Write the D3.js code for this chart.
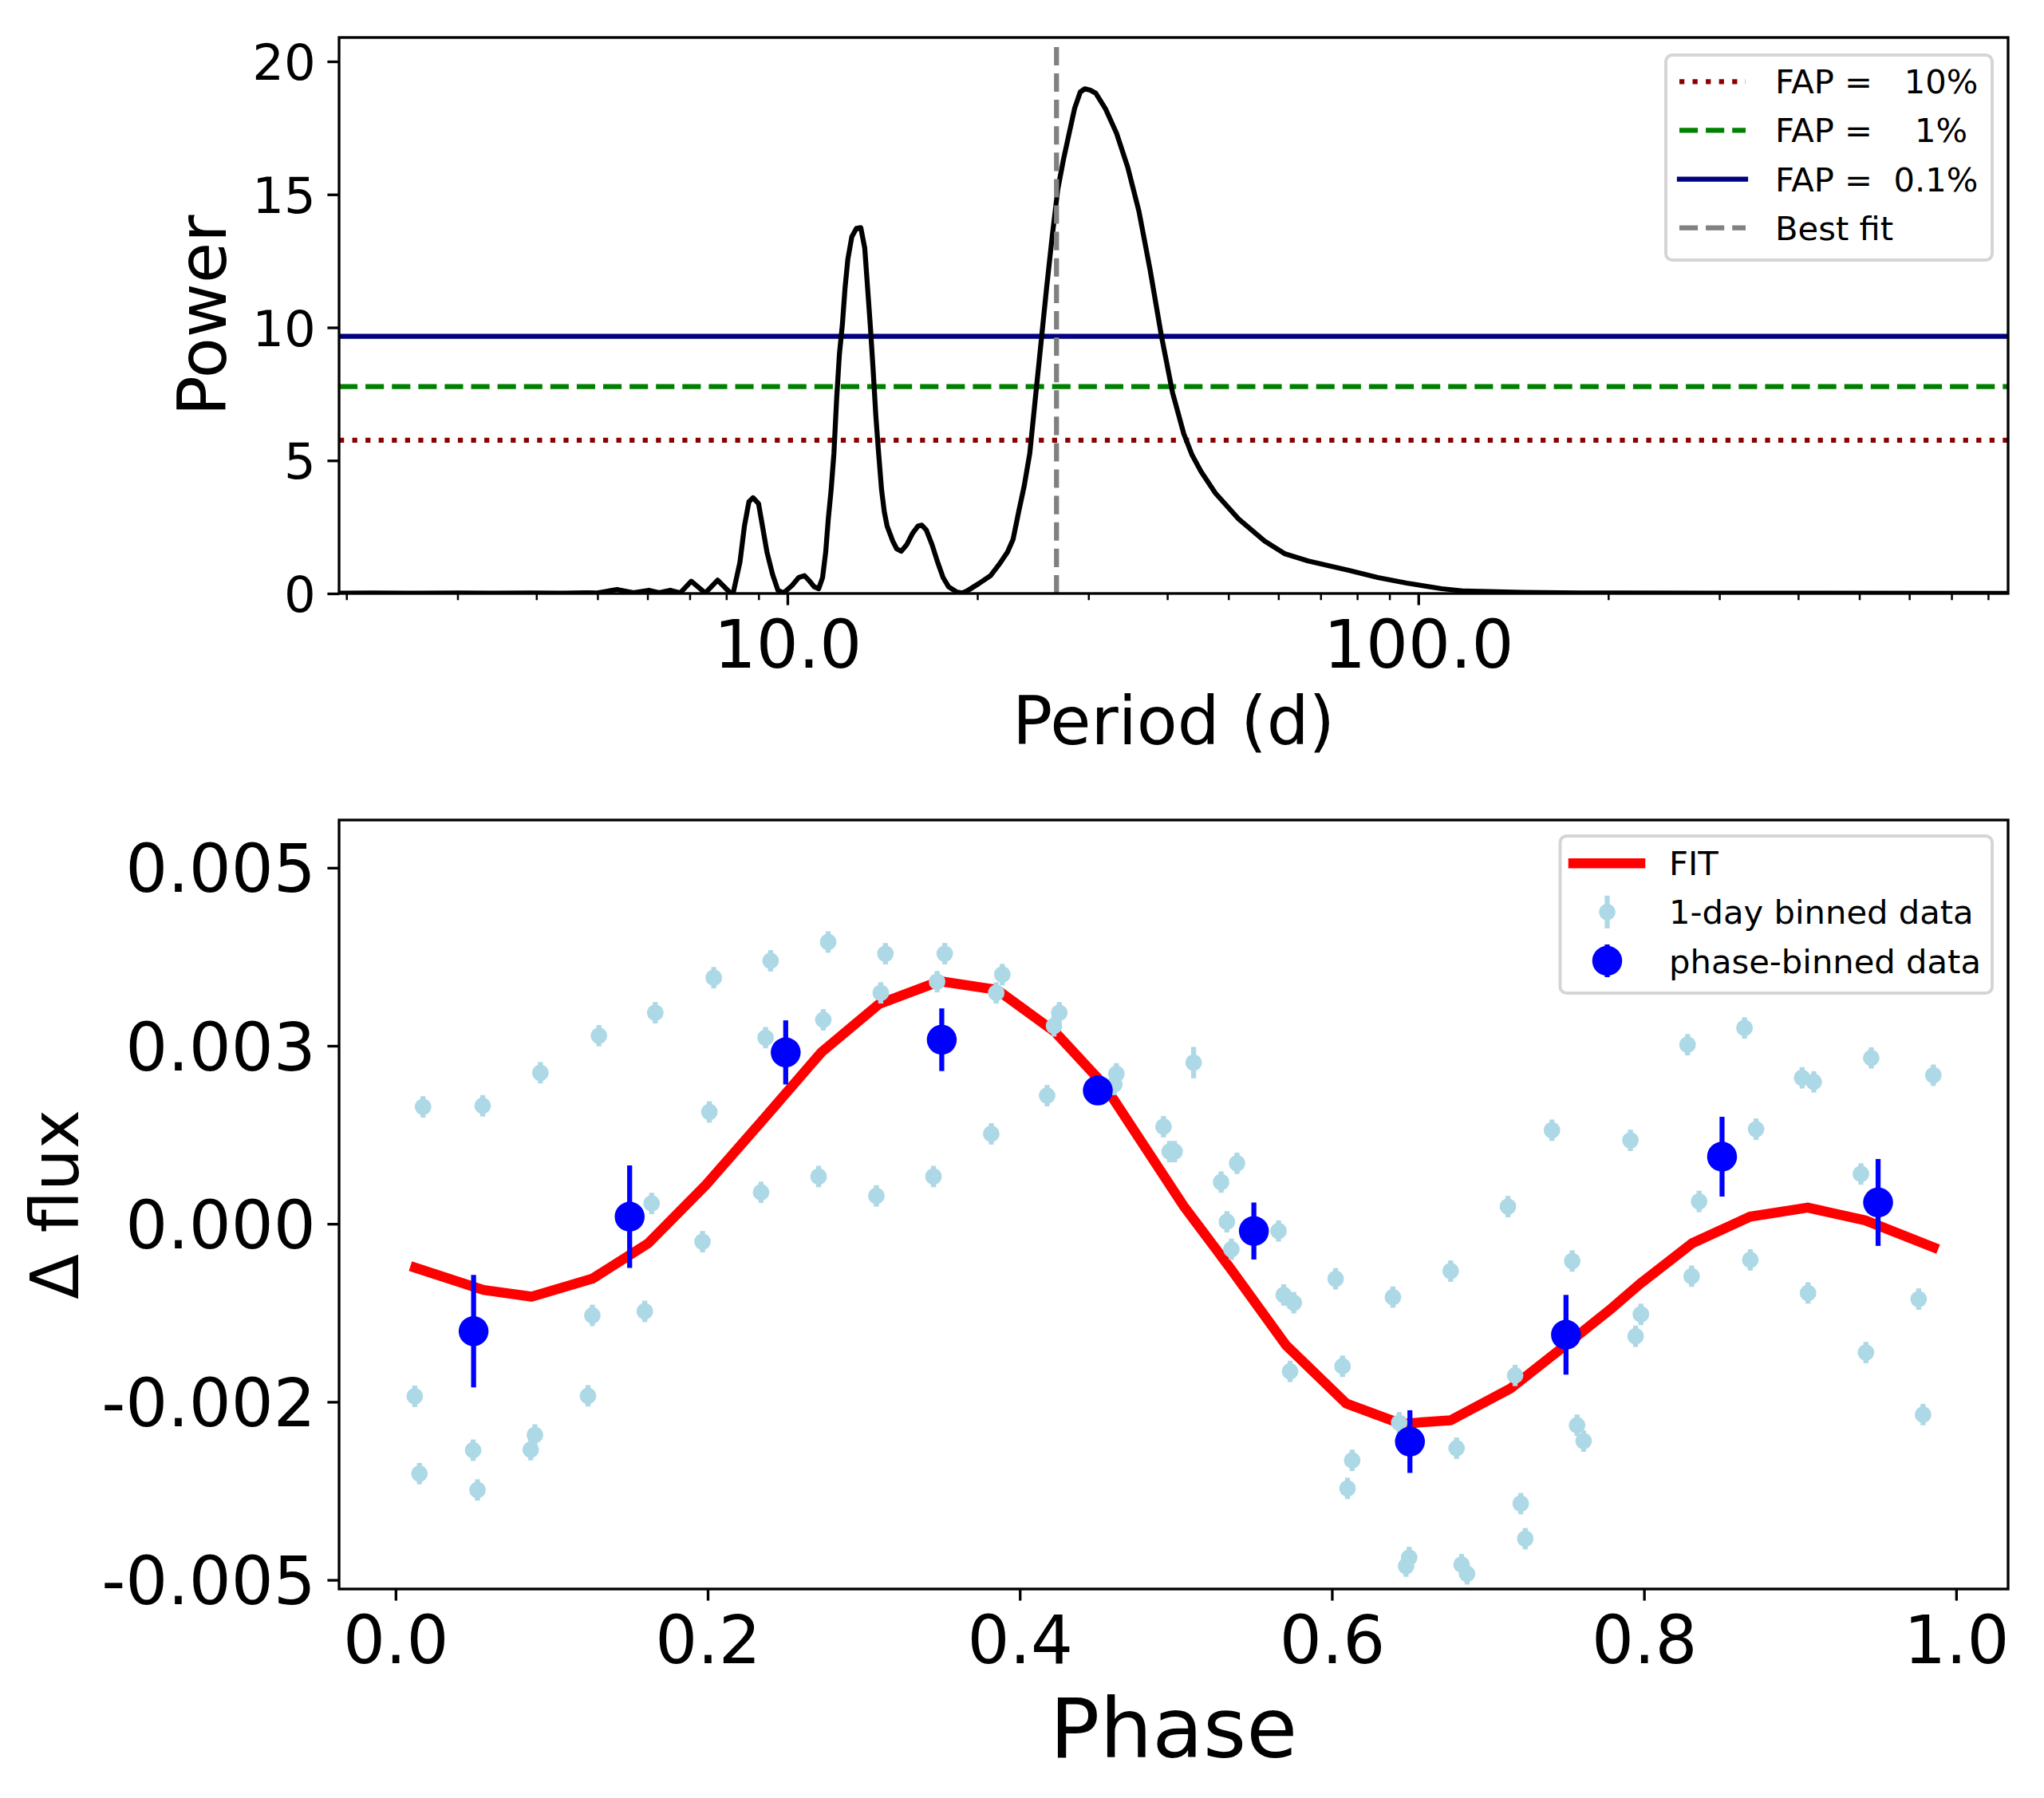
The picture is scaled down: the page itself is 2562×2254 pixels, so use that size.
<!DOCTYPE html>
<html><head><meta charset="utf-8">
<script src="https://cdn.jsdelivr.net/npm/d3@7"></script>
<style>body{margin:0;background:#fff} svg{display:block} text{white-space:pre}</style>
</head><body><svg id="c" width="2562" height="2254"></svg>
<script>
// ---------------- DATA ----------------
// Top panel: periodogram
const periods = [1.947,2.2,2.6,3.0,3.4,3.9,4.4,4.8,5.0,5.37,5.7,6.03,6.26,6.52,6.76,7.04,7.41,7.75,8.12,8.21,8.41,8.55,8.69,8.82,9.00,9.13,9.28,9.47,9.66,9.86,10.17,10.42,10.64,10.81,11.03,11.21,11.37,11.50,11.61,11.73,11.85,11.97,12.09,12.22,12.34,12.47,12.65,12.86,13.07,13.26,13.40,13.53,13.67,13.81,13.95,14.10,14.24,14.39,14.69,14.90,15.15,15.46,15.78,16.10,16.33,16.60,16.95,17.30,17.65,18.01,18.57,18.95,19.34,20.16,20.99,21.65,22.33,22.79,23.26,23.73,24.22,24.72,25.23,25.75,26.28,26.83,27.38,27.94,28.52,29.12,29.6,30.2,30.83,31.91,33.24,34.63,36.07,37.57,39.15,40.78,42.49,43.8,45.24,47.69,51.90,57.09,61.48,66.9,77.6,86.27,95.87,108.9,118.4,146.4,180.9,300,860];
const power = [0.01,0.02,0.01,0.02,0.01,0.02,0.01,0.03,0.02,0.15,0.03,0.12,0.03,0.12,0.02,0.46,0.02,0.50,0.02,0.05,1.18,2.55,3.45,3.60,3.38,2.53,1.56,0.73,0.12,0.02,0.30,0.60,0.67,0.50,0.25,0.18,0.60,1.56,2.81,3.90,5.27,7.35,9.00,10.10,11.48,12.58,13.41,13.72,13.75,12.99,11.48,10.10,8.45,6.66,5.27,3.90,3.08,2.53,1.97,1.68,1.59,1.84,2.25,2.53,2.57,2.39,1.84,1.18,0.60,0.25,0.05,0.02,0.12,0.39,0.67,1.09,1.56,2.04,3.08,4.04,5.27,7.35,9.41,11.48,13.41,15.20,16.30,17.26,18.23,18.85,18.97,18.92,18.80,18.23,17.30,16.02,14.37,12.17,9.69,7.55,6.0,5.2,4.59,3.77,2.80,1.97,1.49,1.22,0.87,0.60,0.39,0.18,0.09,0.04,0.02,0.01,0.005];
const fapLevels = [5.76, 7.78, 9.67];
const fapLabels = ["FAP =   10%", "FAP =    1%", "FAP =  0.1%"];
const bestPeriod = 26.7;
const bestTop = 20.58;
const periodTicks = [10, 100];
const periodTickLabels = ["10.0", "100.0"];
const periodMinorTicks = [2,3,4,5,6,7,8,9,20,30,40,50,60,70,80,90,200,300,400,500,600,700,800];
const powerTicks = [0, 5, 10, 15, 20];
const powerTickLabels = ["0", "5", "10", "15", "20"];

// Bottom panel: phase-folded light curve
const fitPhase = [0.0095,0.0564,0.0872,0.126,0.162,0.199,0.2375,0.2728,0.3098,0.3486,0.3856,0.4226,0.4543,0.505,0.5351,0.5704,0.6091,0.6443,0.6761,0.7148,0.750,0.7780,0.7974,0.8309,0.8679,0.9049,0.9418,0.9885];
const fitFlux  = [-0.000594,-0.000929,-0.001022,-0.000772,-0.000272,0.00055,0.001514,0.002407,0.003086,0.003407,0.003285,0.002693,0.001942,0.00025,-0.00063,-0.0017,-0.002522,-0.002808,-0.002758,-0.002307,-0.0017,-0.00121,-0.000843,-0.000272,0.0001,0.000228,0.000049,-0.000357];

const dayPhase = [0.0123,0.0153,0.0176,0.0497,0.0525,0.0558,0.0866,0.0893,0.0928,0.1233,0.1261,0.1303,0.1597,0.1641,0.1664,0.1967,0.2011,0.2039,0.2342,0.2371,0.2403,0.2711,0.2741,0.2772,0.3081,0.3109,0.3139,0.3447,0.347,0.3519,0.3817,0.3849,0.3888,0.4175,0.4219,0.4253,0.4606,0.4619,0.4921,0.496,0.4992,0.5114,0.529,0.5327,0.5356,0.5392,0.5658,0.5691,0.5732,0.5756,0.6024,0.6068,0.61,0.613,0.6391,0.6431,0.6475,0.6495,0.6761,0.6799,0.6831,0.6866,0.7128,0.7174,0.721,0.7239,0.741,0.754,0.7571,0.7613,0.7913,0.7946,0.798,0.8279,0.8305,0.8353,0.8644,0.8681,0.8718,0.9013,0.9051,0.9088,0.939,0.9422,0.9456,0.976,0.9788,0.9854];
const dayFlux = [-0.002422,-0.003508,0.001642,-0.003179,-0.003737,0.001657,-0.003172,-0.002965,0.002121,-0.002415,-0.001286,0.002642,-0.001229,0.000286,0.002964,-0.000251,0.001571,0.003456,0.000442,0.002614,0.003693,0.000664,0.002864,0.003957,0.000392,0.003243,0.003793,0.000664,0.0034,0.003793,0.001263,0.003243,0.0035,0.0018,0.002779,0.002964,0.001957,0.002107,0.001364,0.001014,0.001014,0.002264,0.000586,0.000028,-0.000357,0.00085,-0.000101,-0.001,-0.002072,-0.001108,-0.000772,-0.002,-0.003715,-0.003322,-0.001029,-0.002793,-0.004807,-0.004686,-0.000664,-0.003151,-0.004786,-0.004915,0.000242,-0.002129,-0.003929,-0.004422,0.001314,-0.000522,-0.002829,-0.003051,0.001172,-0.001579,-0.001271,0.002515,-0.000736,0.000314,0.00275,-0.000507,0.001329,0.00205,-0.000971,0.001993,0.0007,-0.001808,0.002329,-0.001057,-0.002679,0.002086];
const dayErr = [0.00015,0.00015,0.00015,0.00015,0.00015,0.00015,0.00015,0.00015,0.00015,0.00015,0.00015,0.00015,0.00015,0.00015,0.00015,0.00015,0.00015,0.00015,0.00015,0.00015,0.00015,0.00015,0.00015,0.00015,0.00015,0.00015,0.00015,0.00015,0.00015,0.00015,0.00015,0.00015,0.00015,0.00015,0.00015,0.00015,0.00015,0.00015,0.00015,0.00015,0.00015,0.00022,0.00015,0.00015,0.00015,0.00015,0.00015,0.00015,0.00015,0.00015,0.00015,0.00015,0.00015,0.00015,0.00015,0.00015,0.00015,0.00015,0.00015,0.00015,0.00015,0.00015,0.00015,0.00015,0.00015,0.00015,0.00015,0.00015,0.00015,0.00015,0.00015,0.00015,0.00015,0.00015,0.00015,0.00015,0.00015,0.00015,0.00015,0.00015,0.00015,0.00015,0.00015,0.00015,0.00015,0.00015,0.00015,0.00015];

const binPhase = [0.05,0.15,0.25,0.35,0.45,0.55,0.65,0.75,0.85,0.95];
const binFlux  = [-0.001508,0.0001,0.002407,0.002585,0.001872,-0.000101,-0.003058,-0.001558,0.000943,0.0003];
const binErr   = [0.00079,0.00072,0.00045,0.00044,0.00018,0.0004,0.00044,0.00056,0.00056,0.00061];

const phaseTicks = [0, 0.2, 0.4, 0.6, 0.8, 1.0];
const phaseTickLabels = ["0.0", "0.2", "0.4", "0.6", "0.8", "1.0"];
const fluxTicks = [0.005, 0.0025, 0, -0.0025, -0.005];
const fluxTickLabels = ["0.005", "0.003", "0.000", "-0.002", "-0.005"];

const legendTopLabels = fapLabels.concat(["Best fit"]);
const legendBottomLabels = ["FIT", "1-day binned data", "phase-binned data"];

// ---------------- DRAW ----------------
const FONT = '"DejaVu Sans", "Liberation Sans", sans-serif';
const svg = d3.select("#c");
const SPINE = 3.33, MAJ = 14.6, MIN = 8.3, PAD = 14.6;

function styleAxis(g, fs, tw) {
  g.attr("font-family", null).attr("font-size", null);
  g.select(".domain").remove();
  g.selectAll(".tick line").attr("stroke", "#000").attr("stroke-width", tw);
  g.selectAll(".tick text").attr("font-family", FONT).attr("font-size", fs).attr("fill", "#000");
}

// ===== Top panel =====
const T = {l: 425, r: 2517, t: 47, b: 744};
const xP = d3.scaleLog().domain([1.947, 860.6]).range([T.l, T.r]);
const yP = d3.scaleLinear().domain([0, 20.9]).range([T.b, T.t]);

const topG = svg.append("g");
topG.append("clipPath").attr("id", "clipTop").append("rect")
  .attr("x", T.l).attr("y", T.t).attr("width", T.r - T.l).attr("height", T.b - T.t);
const topPlot = topG.append("g").attr("clip-path", "url(#clipTop)");

const fapColors = ["#8b0000", "#008000", "#000080"];
const fapDash = ["6.25,10.3", "23.1,10", null];
fapLevels.forEach((v, i) => {
  topPlot.append("line")
    .attr("x1", T.l).attr("x2", T.r).attr("y1", yP(v)).attr("y2", yP(v))
    .attr("stroke", fapColors[i]).attr("stroke-width", 6.25)
    .attr("stroke-dasharray", fapDash[i]);
});

const pgLine = d3.line().x((d, i) => xP(periods[i])).y((d, i) => yP(power[i]));
topPlot.append("path").datum(power).attr("d", pgLine)
  .attr("fill", "none").attr("stroke", "#000").attr("stroke-width", 6.25)
  .attr("stroke-linejoin", "round");

topPlot.append("line")
  .attr("x1", xP(bestPeriod)).attr("x2", xP(bestPeriod))
  .attr("y1", yP(0)).attr("y2", yP(bestTop))
  .attr("stroke", "#808080").attr("stroke-width", 6.25).attr("stroke-dasharray", "23.1,10");

// axes
const gxT = topG.append("g").attr("transform", `translate(0,${T.b})`)
  .call(d3.axisBottom(xP).tickValues(periodTicks).tickFormat((d, i) => periodTickLabels[i])
    .tickSize(MAJ).tickPadding(PAD));
styleAxis(gxT, 83.3, SPINE);
gxT.selectAll(".tick text").attr("dy", "0.76em");
const gxTm = topG.append("g").attr("transform", `translate(0,${T.b})`)
  .call(d3.axisBottom(xP).tickValues(periodMinorTicks).tickFormat("").tickSize(MIN));
styleAxis(gxTm, 10, 2.5);
const gyT = topG.append("g").attr("transform", `translate(${T.l},0)`)
  .call(d3.axisLeft(yP).tickValues(powerTicks).tickFormat((d, i) => powerTickLabels[i])
    .tickSize(MAJ).tickPadding(PAD));
styleAxis(gyT, 62.5, SPINE);
gyT.selectAll(".tick text").attr("dy", "0.36em");

topG.append("rect").attr("x", T.l).attr("y", T.t).attr("width", T.r - T.l).attr("height", T.b - T.t)
  .attr("fill", "none").attr("stroke", "#000").attr("stroke-width", SPINE);

topG.append("text").attr("x", (T.l + T.r) / 2).attr("y", 933).attr("text-anchor", "middle")
  .attr("font-family", FONT).attr("font-size", 83.3).text("Period (d)");
topG.append("text").attr("transform", `translate(283,${(T.t + T.b) / 2}) rotate(-90)`)
  .attr("text-anchor", "middle").attr("font-family", FONT).attr("font-size", 83.3).text("Power");

// legend top
const LT = {x: 2088, y: 69, w: 409, h: 257};
topG.append("rect").attr("x", LT.x).attr("y", LT.y).attr("width", LT.w).attr("height", LT.h)
  .attr("rx", 8).attr("fill", "#fff").attr("fill-opacity", 0.8)
  .attr("stroke", "#d5d5d5").attr("stroke-width", 4);
const ltColors = fapColors.concat(["#808080"]);
const ltDash = fapDash.concat(["23.1,10"]);
legendTopLabels.forEach((lab, i) => {
  const yy = 102.3 + i * 61.1;
  topG.append("line").attr("x1", 2105).attr("x2", 2188).attr("y1", yy).attr("y2", yy)
    .attr("stroke", ltColors[i]).attr("stroke-width", 6.25)
    .attr("stroke-dasharray", ltDash[i])
    .attr("stroke-linecap", ltDash[i] ? "butt" : "square");
  topG.append("text").attr("x", 2225).attr("y", yy + 15)
    .attr("font-family", FONT).attr("font-size", 41.7).attr("xml:space", "preserve").text(lab);
});

// ===== Bottom panel =====
const B = {l: 425, r: 2517, t: 1028, b: 1992};
const xF = d3.scaleLinear().domain([-0.0362, 1.0333]).range([B.l, B.r]);
const yF = d3.scaleLinear().domain([-0.005128, 0.00567]).range([B.b, B.t]);

const botG = svg.append("g");
botG.append("clipPath").attr("id", "clipBot").append("rect")
  .attr("x", B.l).attr("y", B.t).attr("width", B.r - B.l).attr("height", B.b - B.t);
const botPlot = botG.append("g").attr("clip-path", "url(#clipBot)");

const fitLine = d3.line().x((d, i) => xF(fitPhase[i])).y((d, i) => yF(fitFlux[i]));
botPlot.append("path").datum(fitFlux).attr("d", fitLine)
  .attr("fill", "none").attr("stroke", "#ff0000").attr("stroke-width", 12.5)
  .attr("stroke-linejoin", "round");

const dayG = botPlot.append("g");
dayG.selectAll("line").data(dayFlux).join("line")
  .attr("x1", (d, i) => xF(dayPhase[i])).attr("x2", (d, i) => xF(dayPhase[i]))
  .attr("y1", (d, i) => yF(d - dayErr[i])).attr("y2", (d, i) => yF(d + dayErr[i]))
  .attr("stroke", "#add8e6").attr("stroke-width", 6.25);
dayG.selectAll("circle").data(dayFlux).join("circle")
  .attr("cx", (d, i) => xF(dayPhase[i])).attr("cy", d => yF(d)).attr("r", 10.4)
  .attr("fill", "#add8e6");

const binG = botPlot.append("g");
binG.selectAll("line").data(binFlux).join("line")
  .attr("x1", (d, i) => xF(binPhase[i])).attr("x2", (d, i) => xF(binPhase[i]))
  .attr("y1", (d, i) => yF(d - binErr[i])).attr("y2", (d, i) => yF(d + binErr[i]))
  .attr("stroke", "#0000ff").attr("stroke-width", 6.25);
binG.selectAll("circle").data(binFlux).join("circle")
  .attr("cx", (d, i) => xF(binPhase[i])).attr("cy", d => yF(d)).attr("r", 18.75)
  .attr("fill", "#0000ff");

const gxB = botG.append("g").attr("transform", `translate(0,${B.b})`)
  .call(d3.axisBottom(xF).tickValues(phaseTicks).tickFormat((d, i) => phaseTickLabels[i])
    .tickSize(MAJ).tickPadding(PAD));
styleAxis(gxB, 83.3, SPINE);
gxB.selectAll(".tick text").attr("dy", "0.76em");
const gyB = botG.append("g").attr("transform", `translate(${B.l},0)`)
  .call(d3.axisLeft(yF).tickValues(fluxTicks).tickFormat((d, i) => fluxTickLabels[i])
    .tickSize(MAJ).tickPadding(PAD));
styleAxis(gyB, 83.3, SPINE);
gyB.selectAll(".tick text").attr("dy", "0.36em");

botG.append("rect").attr("x", B.l).attr("y", B.t).attr("width", B.r - B.l).attr("height", B.b - B.t)
  .attr("fill", "none").attr("stroke", "#000").attr("stroke-width", SPINE);

botG.append("text").attr("x", (B.l + B.r) / 2).attr("y", 2203).attr("text-anchor", "middle")
  .attr("font-family", FONT).attr("font-size", 104).text("Phase");
botG.append("text").attr("transform", `translate(98,${(B.t + B.b) / 2}) rotate(-90)`)
  .attr("text-anchor", "middle").attr("font-family", FONT).attr("font-size", 83.3).text("Δ flux");

// legend bottom
const LB = {x: 1955.5, y: 1048, w: 541.5, h: 197};
botG.append("rect").attr("x", LB.x).attr("y", LB.y).attr("width", LB.w).attr("height", LB.h)
  .attr("rx", 8).attr("fill", "#fff").attr("fill-opacity", 0.8)
  .attr("stroke", "#d5d5d5").attr("stroke-width", 4);
const rowsB = [1082.3, 1143.3, 1204.5];
botG.append("line").attr("x1", 1972).attr("x2", 2056).attr("y1", rowsB[0]).attr("y2", rowsB[0])
  .attr("stroke", "#ff0000").attr("stroke-width", 12.5).attr("stroke-linecap", "square");
botG.append("line").attr("x1", 2014.5).attr("x2", 2014.5).attr("y1", rowsB[1] - 20.5).attr("y2", rowsB[1] + 20.5)
  .attr("stroke", "#add8e6").attr("stroke-width", 6.25);
botG.append("circle").attr("cx", 2014.5).attr("cy", rowsB[1]).attr("r", 10.4).attr("fill", "#add8e6");
botG.append("line").attr("x1", 2014.5).attr("x2", 2014.5).attr("y1", rowsB[2] - 20.5).attr("y2", rowsB[2] + 20.5)
  .attr("stroke", "#0000ff").attr("stroke-width", 6.25);
botG.append("circle").attr("cx", 2014.5).attr("cy", rowsB[2]).attr("r", 18.75).attr("fill", "#0000ff");
legendBottomLabels.forEach((lab, i) => {
  botG.append("text").attr("x", 2092).attr("y", rowsB[i] + 15)
    .attr("font-family", FONT).attr("font-size", 41.7).text(lab);
});
</script></body></html>
